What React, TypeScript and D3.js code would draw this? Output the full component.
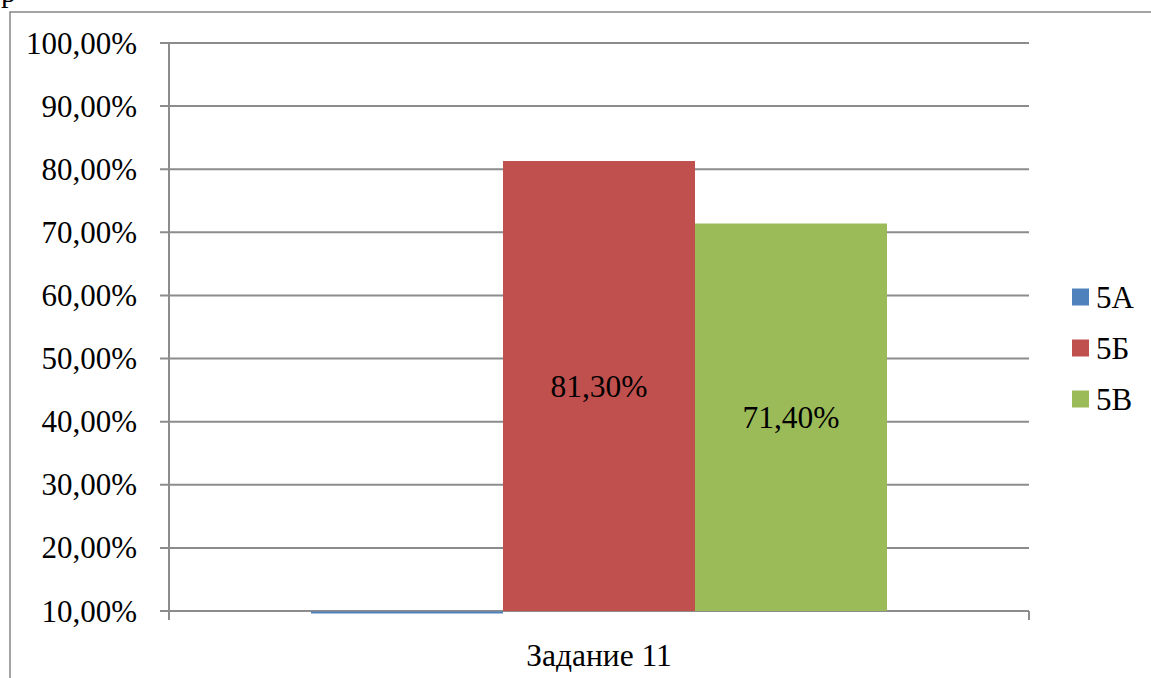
import React from "react";
import * as d3 from "d3";

const categories = ["Задание 11"];
const seriesNames = ["5А", "5Б", "5В"];
const seriesValues = [0, 81.3, 71.4];
const valueLabels = ["", "81,30%", "71,40%"];
const seriesColors = ["#4F81BD", "#C0504D", "#9BBB59"];
const yTicks = [10, 20, 30, 40, 50, 60, 70, 80, 90, 100];

const W = 1151;
const H = 678;
const FONT = "Liberation Serif";

export default function App() {
  const left = 169, right = 1029, top = 43, bottom = 611;
  const y = d3.scaleLinear().domain([10, 100]).range([bottom, top]).clamp(true);
  const x0 = d3.scaleBand().domain(categories).range([left, right]).paddingInner(0).paddingOuter(0.2465);
  const x1 = d3.scaleBand().domain(seriesNames).range([0, x0.bandwidth()]).padding(0);
  const fmt = (v: number) => v.toFixed(2).replace(".", ",") + "%";
  const gridColor = "#8c8c8c";

  return (
    <svg width={W} height={H} style={{ position: "absolute", left: 0, top: 0, background: "#fff" }}>
      <rect x={0} y={0} width={W} height={H} fill="#fff" />
      <text x={1} y={1.5} fontSize={30} fill="#000" fontFamily={FONT}>р</text>
      <rect x={10} y={12} width={W + 20} height={H + 20} fill="none" stroke="#868686" strokeWidth={1.5} />
      {yTicks.map((t) => (
        <g key={t}>
          <line x1={left - 9} x2={right} y1={y(t)} y2={y(t)} stroke={gridColor} strokeWidth={2} />
          <text x={137} y={y(t)} dy="0.34em" textAnchor="end" fontSize={31} fill="#000" fontFamily={FONT}>{fmt(t)}</text>
        </g>
      ))}
      <line x1={left} x2={left} y1={top} y2={bottom + 9} stroke={gridColor} strokeWidth={2} />
      {categories.map((c) => (
        <g key={c}>
          {seriesNames.map((s, i) => {
            const v = seriesValues[i];
            const bx = (x0(c) as number) + (x1(s) as number);
            const bw = x1.bandwidth();
            if (v <= 10) {
              return <line key={s} x1={bx} x2={bx + bw} y1={y(10) + 1.5} y2={y(10) + 1.5} stroke={seriesColors[i]} strokeWidth={2} />;
            }
            return (
              <g key={s}>
                <rect x={bx} y={y(v)} width={bw} height={y(10) - y(v)} fill={seriesColors[i]} />
                <text x={bx + bw / 2} y={(y(v) + y(10)) / 2} dy="0.34em" textAnchor="middle" fontSize={31.5} fill="#000" fontFamily={FONT}>
                  {valueLabels[i]}
                </text>
              </g>
            );
          })}
          <text x={(x0(c) as number) + x0.bandwidth() / 2} y={655} dy="0.34em" textAnchor="middle" fontSize={31.5} fill="#000" fontFamily={FONT}>{c}</text>
        </g>
      ))}
      <line x1={right} x2={right} y1={bottom} y2={bottom + 9} stroke={gridColor} strokeWidth={2} />
      {seriesNames.map((s, i) => (
        <g key={s} transform={`translate(1072, ${297 + i * 51})`}>
          <rect x={0} y={-8.5} width={17} height={17} fill={seriesColors[i]} />
          <text x={24} y={0} dy="0.34em" fontSize={31} fill="#000" fontFamily={FONT}>{s}</text>
        </g>
      ))}
    </svg>
  );
}
